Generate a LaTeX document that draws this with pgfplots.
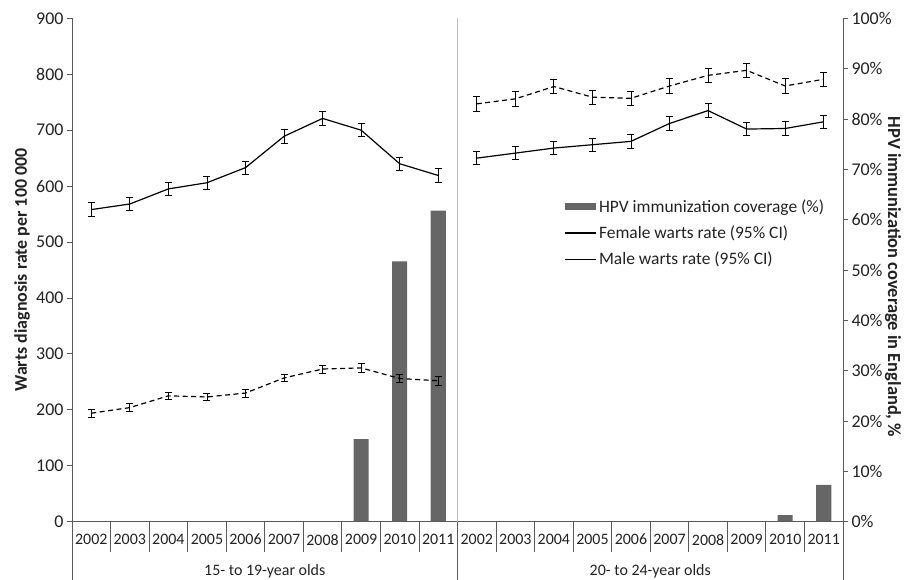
\documentclass[border=0pt]{standalone}
\usepackage{pgfplots}
\pgfplotsset{compat=1.18}
\usetikzlibrary{calc}
\usepackage{fontspec}
\setmainfont{Carlito}
\definecolor{axgray}{HTML}{595959}
\definecolor{bargray}{HTML}{666666}
\definecolor{divgray}{HTML}{C0C0C0}
\definecolor{txt}{HTML}{222222}
\newcommand{\fsA}{\fontsize{18}{21}\selectfont}
\newcommand{\fsB}{\fontsize{16}{19}\selectfont}
\newcommand{\fsC}{\fontsize{17.5}{20}\selectfont}
\newcommand{\fsL}{\fontsize{18}{21}\selectfont}
\newcommand{\fsR}{\fontsize{18.5}{21}\selectfont}
\pgfplotsset{
  linelegend/.style={legend image code/.code={\draw[black, line width=1.3pt] (0bp,0bp) -- (31bp,0bp);}},
  barlegend/.style={legend image code/.code={\fill[bargray] (0bp,-3.5bp) rectangle (31bp,3.5bp);}},
}

\pgfplotstableread{
x y e
0 558 12
1 568 12
2 595 12
3 606 12
4 633 12
5 689 12
6 721 12
7 700 12
8 640 12
9 619 12
}\femaleA
\pgfplotstableread{
x y e
0 194 7
1 204 7
2 225 7
3 223 7
4 230 7
5 257 7
6 273 7
7 275 8
8 256 7
9 252 8
}\maleA
\pgfplotstableread{
x y e
10 650 12
11 659 12
12 668 12
13 674 12
14 680 12
15 712 12
16 735 12
17 702 12
18 703 12
19 715 12
}\femaleB
\pgfplotstableread{
x y e
10 747 13
11 756 13
12 778 13
13 759 13
14 757 13
15 779 13
16 798 13
17 807 13
18 779 13
19 791 13
}\maleB
\pgfplotstableread{
x y
7 16.4
8 51.7
9 61.8
18 1.3
19 7.3
}\hpv

\begin{document}
\begin{tikzpicture}
% bar axis (right y axis)
\begin{axis}[
  scale only axis, width=771bp, height=503.4bp,
  xmin=-0.5, xmax=19.5,
  ymin=0, ymax=100,
  axis y line*=right,
  axis x line=none,
  ytick={0,10,...,100},
  yticklabel={\pgfmathprintnumber{\tick}\%},
  tick align=outside,
  major tick length=5bp,
  y axis line style={axgray, line width=0.9pt},
  ytick style={axgray, line width=0.9pt},
  tick label style={font=\fsA, text=txt},
  /pgf/number format/assume math mode=true,
  legend style={draw=none, fill=none, font=\fsC, text=txt, at={(rel axis cs:0.635,0.648)}, anchor=north west, row sep=8bp, legend cell align=left},
  clip=false,
]
\addplot[ybar, bar width=0.39, fill=bargray, draw=none, barlegend] table[x=x,y=y] {\hpv};
\addlegendentry{HPV immunization coverage (\%)}
\addlegendimage{linelegend}
\addlegendentry{Female warts rate (95\% CI)}
\addlegendimage{linelegend}
\addlegendentry{Male warts rate (95\% CI)}
\node[rotate=-90, font=\fsR\bfseries, text=txt] at ($(rel axis cs:1,0.5)+(50bp,-7bp)$) {HPV immunization coverage in England, \%};
\end{axis}
% line axis (left y axis)
\begin{axis}[
  scale only axis, width=771bp, height=503.4bp,
  xmin=-0.5, xmax=19.5,
  ymin=0, ymax=900,
  axis x line*=bottom,
  axis y line*=left,
  x axis line style={axgray, line width=0.9pt, -},
  y axis line style={axgray, line width=0.9pt, -},
  ytick={0,100,...,900},
  xtick={0,...,19},
  xticklabels={2002,2003,2004,2005,2006,2007,2008,2009,2010,2011,2002,2003,2004,2005,2006,2007,2008,2009,2010,2011},
  xtick style={draw=none},
  ytick style={axgray, line width=0.9pt},
  tick align=outside,
  major tick length=5bp,
  yticklabel style={font=\fsA, text=txt},
  xticklabel style={font=\fsB, text=txt, yshift=-4bp},
  /pgf/number format/assume math mode=true,
  clip=false,
]
\coordinate (O) at (rel axis cs:0,0);
\node[rotate=90, font=\fsL\bfseries, text=txt] at ($(rel axis cs:0,0.5)+(-50bp,0bp)$) {Warts diagnosis rate per 100 000};
% divider and separators
\draw[divgray, line width=0.9pt] (axis cs:9.5,0) -- (axis cs:9.5,900);
\pgfplotsinvokeforeach{0.5,1.5,2.5,3.5,4.5,5.5,6.5,7.5,8.5,10.5,11.5,12.5,13.5,14.5,15.5,16.5,17.5,18.5}{
  \draw[axgray, line width=0.9pt] (axis cs:#1,0) -- ++(0bp,-30bp);
}
\pgfplotsinvokeforeach{-0.5,9.5,19.5}{
  \draw[axgray, line width=0.9pt] (axis cs:#1,0) -- ++(0bp,-59bp);
}
\node[font=\fsB, text=txt] at ($(axis cs:4.5,0)+(0bp,-50bp)$) {15- to 19-year olds};
\node[font=\fsB, text=txt] at ($(axis cs:14.5,0)+(0bp,-50bp)$) {20- to 24-year olds};

\addplot[black, line width=1.2pt, mark=none,
  error bars/.cd, y dir=both, y explicit,
  error bar style={line width=0.8pt, solid},
  error mark options={line width=0.8pt, mark size=3.5bp, rotate=90, solid}]
  table[x=x, y=y, y error=e] {\femaleA};
\addplot[black, line width=1.2pt, mark=none, dash pattern=on 5bp off 3.5bp,
  error bars/.cd, y dir=both, y explicit,
  error bar style={line width=0.8pt, solid},
  error mark options={line width=0.8pt, mark size=3.5bp, rotate=90, solid}]
  table[x=x, y=y, y error=e] {\maleA};
\addplot[black, line width=1.2pt, mark=none,
  error bars/.cd, y dir=both, y explicit,
  error bar style={line width=0.8pt, solid},
  error mark options={line width=0.8pt, mark size=3.5bp, rotate=90, solid}]
  table[x=x, y=y, y error=e] {\femaleB};
\addplot[black, line width=1.2pt, mark=none, dash pattern=on 5bp off 3.5bp,
  error bars/.cd, y dir=both, y explicit,
  error bar style={line width=0.8pt, solid},
  error mark options={line width=0.8pt, mark size=3.5bp, rotate=90, solid}]
  table[x=x, y=y, y error=e] {\maleB};
\end{axis}
\pgfresetboundingbox
\path[use as bounding box] (O) ++(-72bp,-58.3bp) rectangle ++(907bp,580bp);
\end{tikzpicture}
\end{document}
